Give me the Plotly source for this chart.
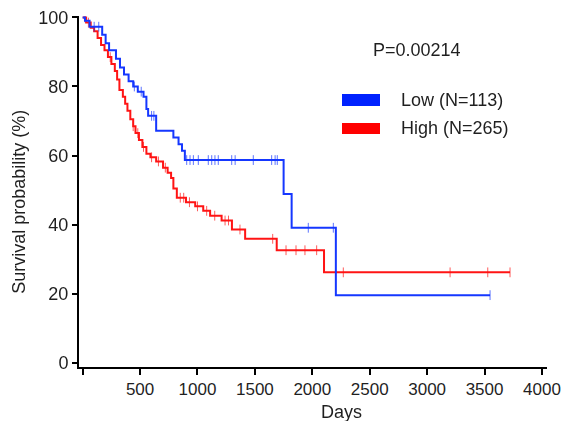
import numpy as np
import plotly.graph_objects as go

# Kaplan-Meier step data (days, survival %)
low_days = [0, 20, 60, 170, 200, 230, 290, 325, 360, 400, 440, 480, 530, 555, 570, 640,
            790, 835, 865, 890, 1750, 1820, 2205, 3548]
low_surv = [100, 99, 97.3, 95, 92.5, 90.5, 88, 85.5, 83.5, 81.5, 80, 78.5, 77, 73.5, 71.5, 67.2,
            65.2, 63.3, 61.4, 58.7, 48.9, 39.1, 19.6, 19.6]
low_censor = [100, 140, 450, 510, 600, 620, 906, 935, 964, 1007, 1094, 1124, 1152, 1181,
              1298, 1328, 1486, 1646, 1676, 1695, 1965, 2183, 3548]

high_days = [0, 30, 70, 100, 130, 160, 190, 220, 250, 280, 300, 320, 350, 370, 390, 415, 440,
             460, 490, 520, 555, 590, 640, 700, 740, 770, 790, 820, 900, 980, 1050, 1110,
             1210, 1300, 1415, 1690, 2102, 3722]
high_surv = [100, 98.5, 97, 96, 94, 92, 90.5, 88.5, 86.5, 84.5, 82, 79, 77, 75, 73, 70.5, 68.5,
             66.5, 64.5, 62.5, 60.5, 59.5, 58.3, 56.5, 55, 53.5, 50.5, 47.8, 46.5, 45.3, 44, 42.6,
             41.2, 38.6, 35.9, 32.6, 26.2, 26.2]
high_censor = [20, 50, 240, 440, 480, 530, 600, 660, 720, 850, 880, 930, 1000, 1080, 1150,
               1240, 1270, 1370, 1655, 1771, 1858, 1936, 2038, 2270, 3200, 3528, 3722]

x_tickvals = [0, 500, 1000, 1500, 2000, 2500, 3000, 3500, 4000]
x_ticktext = ["", "500", "1000", "1500", "2000", "2500", "3000", "3500", "4000"]
y_tickvals = [0, 20, 40, 60, 80, 100]

p_text = "P=0.00214"
low_label = "Low (N=113)"
high_label = "High (N=265)"

BLUE = "#1537ff"
RED = "#ff1414"
FONT = "Liberation Sans, Arial, sans-serif"
TXT = "#1f1f1f"


def surv_at(days, surv, t):
    idx = np.searchsorted(np.array(days), np.array(t), side="right") - 1
    return [surv[i] for i in idx]


fig = go.Figure()
for d, s, c, col in [(high_days, high_surv, high_censor, RED), (low_days, low_surv, low_censor, BLUE)]:
    fig.add_trace(go.Scatter(x=d, y=s, mode="lines", line=dict(color=col, width=2, shape="hv"),
                             showlegend=False, hoverinfo="skip"))
    fig.add_trace(go.Scatter(x=c, y=surv_at(d, s, c), mode="markers",
                             marker=dict(symbol="line-ns", size=7, line=dict(color=col, width=1)),
                             opacity=0.7, showlegend=False, hoverinfo="skip"))

W, H = 569, 421
L, R, T, B = 79, 22, 16, 54
pw, ph = W - L - R, H - T - B


def px(xp):
    return (xp - L) / pw


def py(yp):
    return (H - B - yp) / ph


fig.update_layout(
    width=W, height=H,
    margin=dict(l=L, r=R, t=T, b=B),
    plot_bgcolor="white", paper_bgcolor="white",
    font=dict(family=FONT, size=18, color=TXT),
    xaxis=dict(range=[-32, 4044], tickvals=x_tickvals, ticktext=x_ticktext,
               showline=True, linecolor="black", linewidth=2, ticks="outside",
               ticklen=6, tickwidth=1.5, tickcolor="black", showgrid=False, zeroline=False,
               tickfont=dict(size=17), automargin=False),
    yaxis=dict(range=[-1.2, 100.4], tickvals=y_tickvals,
               showline=True, linecolor="black", linewidth=2, ticks="outside",
               ticklen=5, tickwidth=1.5, tickcolor="black", showgrid=False, zeroline=False,
               tickfont=dict(size=18), automargin=False),
    shapes=[
        dict(type="rect", xref="paper", yref="paper", x0=px(342), x1=px(380), y0=py(106), y1=py(94),
             fillcolor="#0022ff", line=dict(width=0)),
        dict(type="rect", xref="paper", yref="paper", x0=px(342), x1=px(380), y0=py(134), y1=py(123),
             fillcolor="#ff0000", line=dict(width=0)),
    ],
    annotations=[
        dict(text=p_text, xref="paper", yref="paper", x=px(371), y=py(50), xanchor="left",
             yanchor="middle", showarrow=False, font=dict(size=18)),
        dict(text=low_label, xref="paper", yref="paper", x=px(399), y=py(100), xanchor="left",
             yanchor="middle", showarrow=False, font=dict(size=18)),
        dict(text=high_label, xref="paper", yref="paper", x=px(399), y=py(128), xanchor="left",
             yanchor="middle", showarrow=False, font=dict(size=18)),
        dict(text="Days", xref="paper", yref="paper", x=px(341.7), y=py(411.7), xanchor="center",
             yanchor="middle", showarrow=False, font=dict(size=18)),
        dict(text="Survival probability (%)", xref="paper", yref="paper", x=px(19), y=py(201.7),
             xanchor="center", yanchor="middle", textangle=-90, showarrow=False, font=dict(size=18)),
    ],
)

fig.write_html("out.html", config={"displayModeBar": False},
               post_script="document.body.style.margin='0px';")
